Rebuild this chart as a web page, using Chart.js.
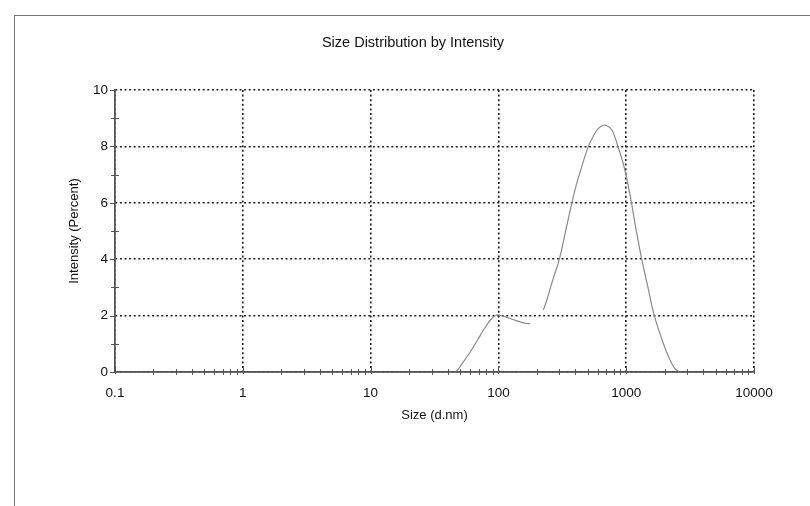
<!DOCTYPE html>
<html>
<head>
<meta charset="utf-8">
<script src="https://cdn.jsdelivr.net/npm/chart.js@4.4.0/dist/chart.umd.min.js"></script>
<style>
  html, body { margin: 0; padding: 0; background: #fff; }
  #wrap { position: relative; width: 810px; height: 506px; overflow: hidden; }
  #frame { position: absolute; left: 14px; top: 15px; width: 810px; height: 520px;
           border-top: 1.5px solid #777; border-left: 1.5px solid #777; }
  canvas { position: absolute; left: 0; top: 0; }
</style>
</head>
<body>
<div id="wrap">
  <div id="frame"></div>
  <canvas id="c" width="810" height="506"></canvas>
</div>
<script>
// ---- data ----
const sizes = [40, 46, 52, 60, 68, 78, 88, 97, 110, 130, 150, 167, 178, 200, 225, 239, 268, 300, 336, 376, 405, 450, 507, 555, 607, 664, 728, 773, 820, 861, 908, 953, 995, 1043, 1094, 1200, 1322, 1480, 1660, 1950, 2200, 2400, 2600];
const intensities = [0, 0, 0.3, 0.7, 1.1, 1.55, 1.88, 2.02, 1.97, 1.86, 1.77, 1.72, 1.72, null, 2.2, 2.55, 3.3, 4.0, 5.0, 6.0, 6.6, 7.3, 8.01, 8.38, 8.64, 8.75, 8.70, 8.58, 8.30, 8.00, 7.68, 7.35, 7.0, 6.55, 6.06, 5.0, 4.0, 3.0, 2.0, 1.02, 0.43, 0.12, 0];
const xTickValues = [0.1, 1, 10, 100, 1000, 10000];
const xTickLabels = ['0.1', '1', '10', '100', '1000', '10000'];
const yTickValues = [0, 2, 4, 6, 8, 10];
const yMinorValues = [1, 3, 5, 7, 9];
const titleText = 'Size Distribution by Intensity';
const xTitle = 'Size (d.nm)';
const yTitle = 'Intensity (Percent)';

const points = sizes.map((s, i) => ({ x: s, y: intensities[i] }));

const FONT = "'Liberation Sans', Arial, Helvetica, sans-serif";
const DOT = [2, 2.6];
const GRIDC = '#1e1e1e';
const AXC = '#555';

const mainTitle = {
  id: 'mainTitle',
  afterDraw(chart) {
    const ctx = chart.ctx;
    ctx.save();
    ctx.fillStyle = '#111';
    ctx.font = '14.5px ' + FONT;
    ctx.textAlign = 'center';
    ctx.textBaseline = 'middle';
    ctx.fillText(titleText, 413, 43);
    ctx.restore();
  }
};

const minorTicks = {
  id: 'minorTicks',
  afterDraw(chart) {
    const ctx = chart.ctx;
    const xs = chart.scales.x, ys = chart.scales.y;
    const ca = chart.chartArea;
    ctx.save();
    ctx.strokeStyle = AXC;
    ctx.lineWidth = 1;
    ctx.beginPath();
    for (let e = -1; e < 4; e++) {
      for (let k = 2; k <= 9; k++) {
        const px = Math.round(xs.getPixelForValue(k * Math.pow(10, e))) + 0.5;
        ctx.moveTo(px, ca.bottom - 3);
        ctx.lineTo(px, ca.bottom + 3);
      }
    }
    xTickValues.forEach(v => {
      const px = Math.round(xs.getPixelForValue(v)) + 0.5;
      ctx.moveTo(px, ca.bottom - 6);
      ctx.lineTo(px, ca.bottom + 2);
    });
    yMinorValues.forEach(v => {
      const py = Math.round(ys.getPixelForValue(v)) + 0.5;
      ctx.moveTo(ca.left - 4, py);
      ctx.lineTo(ca.left + 4, py);
    });
    yTickValues.forEach(v => {
      const py = Math.round(ys.getPixelForValue(v)) + 0.5;
      ctx.moveTo(ca.left - 5, py);
      ctx.lineTo(ca.left, py);
    });
    ctx.stroke();
    ctx.lineWidth = 1.3;
    ctx.beginPath();
    ctx.moveTo(ca.left, ca.top);
    ctx.lineTo(ca.left, ca.bottom);
    ctx.lineTo(ca.right, ca.bottom);
    ctx.stroke();
    ctx.restore();
  }
};

new Chart(document.getElementById('c'), {
  type: 'line',
  data: {
    datasets: [{
      data: points,
      borderColor: '#8a8a8a',
      borderWidth: 1.2,
      pointRadius: 0,
      fill: false,
      spanGaps: false,
      tension: 0.4
    }]
  },
  options: {
    responsive: false,
    animation: false,
    events: [],
    layout: { padding: { left: 0, right: 56, top: 90, bottom: 0 } },
    plugins: {
      legend: { display: false },
      tooltip: { enabled: false },
      title: { display: false }
    },
    scales: {
      x: {
        type: 'logarithmic',
        min: 0.1,
        max: 10000,
        afterBuildTicks(scale) { scale.ticks = xTickValues.map(v => ({ value: v })); },
        afterFit(scale) { scale.height = 134; },
        ticks: {
          autoSkip: false,
          maxRotation: 0,
          padding: 13,
          color: '#111',
          font: { family: FONT, size: 13.5 },
          callback(value) { const i = xTickValues.indexOf(value); return i >= 0 ? xTickLabels[i] : ''; }
        },
        grid: {
          color: GRIDC,
          lineWidth: 1.6,
          drawTicks: false
        },
        border: { display: true, color: AXC, width: 1.3, dash: DOT },
        title: {
          display: true,
          text: xTitle,
          color: '#111',
          font: { family: FONT, size: 13 },
          padding: { top: 0, bottom: 83 }
        }
      },
      y: {
        type: 'linear',
        min: 0,
        max: 10,
        afterBuildTicks(scale) { scale.ticks = yTickValues.map(v => ({ value: v })); },
        afterFit(scale) { scale.width = 115; },
        ticks: {
          padding: 7,
          color: '#111',
          font: { family: FONT, size: 13.5 }
        },
        grid: {
          color: GRIDC,
          lineWidth: 1.6,
          drawTicks: false
        },
        border: { display: true, color: AXC, width: 1.3, dash: DOT },
        title: {
          display: true,
          text: yTitle,
          color: '#111',
          font: { family: FONT, size: 13 },
          padding: { top: 67, bottom: 0 }
        }
      }
    }
  },
  plugins: [minorTicks, mainTitle]
});
</script>
</body>
</html>
